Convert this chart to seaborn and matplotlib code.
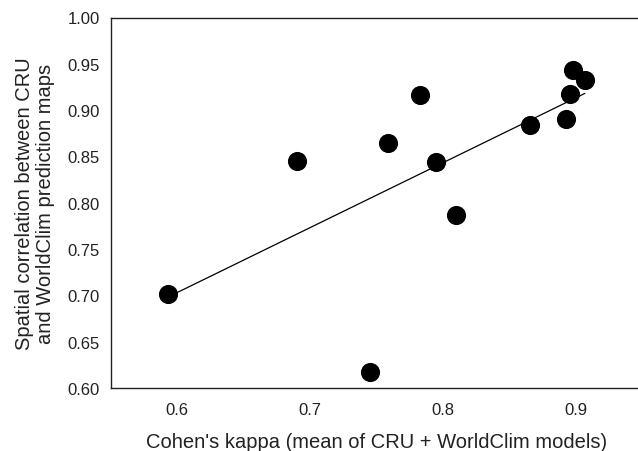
import matplotlib
matplotlib.use("Agg")
import matplotlib.pyplot as plt
import seaborn as sns
import pandas as pd
from matplotlib.ticker import FormatStrFormatter

kappa = [0.593, 0.690, 0.759, 0.783, 0.7945, 0.810, 0.745, 0.866, 0.893, 0.8957, 0.898, 0.907]
spatial_corr = [0.702, 0.845, 0.864, 0.916, 0.844, 0.787, 0.617, 0.884, 0.890, 0.917, 0.943, 0.933]
x_ticks = [0.6, 0.7, 0.8, 0.9]
y_ticks = [0.60, 0.65, 0.70, 0.75, 0.80, 0.85, 0.90, 0.95, 1.00]

df = pd.DataFrame({"kappa": kappa, "corr": spatial_corr})

sns.set_style("white")
plt.rcParams["font.family"] = ["Liberation Sans", "DejaVu Sans"]

fig = plt.figure(figsize=(6.38, 4.52), dpi=100)
ax = fig.add_axes([111 / 638, 1 - 389 / 452, (642 - 111) / 638, (389 - 18.5) / 452])

sns.regplot(data=df, x="kappa", y="corr", ax=ax, ci=None,
            scatter_kws=dict(s=190, color="black", edgecolor="black", linewidths=0, zorder=3, alpha=1),
            line_kws=dict(color="black", lw=0.9, zorder=2))

ax.set_xlim(0.55, 0.95)
ax.set_ylim(0.60, 1.00)
ax.set_xticks(x_ticks)
ax.set_yticks(y_ticks)
ax.xaxis.set_major_formatter(FormatStrFormatter("%.1f"))
ax.yaxis.set_major_formatter(FormatStrFormatter("%.2f"))
ax.tick_params(axis="x", direction="in", length=4, width=0.8, labelsize=12, pad=10, colors="#222222")
ax.tick_params(axis="y", direction="out", length=4, width=0.8, labelsize=12, pad=4, colors="#222222")
for sp in ax.spines.values():
    sp.set_color("#222222")
    sp.set_linewidth(1.0)
ax.spines["right"].set_visible(False)

ax.set_xlabel("Cohen's kappa (mean of CRU + WorldClim models)", fontsize=14.5, labelpad=11, color="#222222")
ax.set_ylabel("Spatial correlation between CRU\nand WorldClim prediction maps", fontsize=14.5,
              labelpad=9, color="#222222", linespacing=1.15)

fig.savefig("out.png", dpi=100)
